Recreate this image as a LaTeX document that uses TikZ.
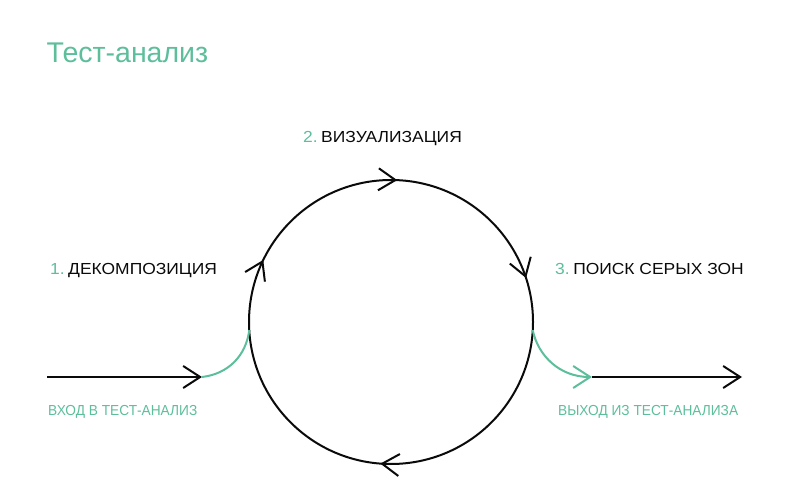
\documentclass[tikz,border=0pt]{standalone}
\usepackage{fontspec}
\setmainfont{Liberation Sans}
\newfontfamily\condfont[FakeStretch=0.945]{Liberation Sans}
\newfontfamily\widefont[FakeStretch=1.09]{Liberation Sans}
\usetikzlibrary{arrows.meta,decorations.markings}
\definecolor{mint}{RGB}{92,190,154}
\definecolor{ink}{RGB}{10,10,10}
\tikzset{
  chev/.tip={Straight Barb[length=17pt,width=22pt,line width=2pt]},
  flow/.style={line width=2pt, ink},
  greenflow/.style={line width=2pt, mint},
  lbl/.style={anchor=base west, inner sep=0pt, font=\widefont\fontsize{16}{18}\selectfont, text=ink},
  small/.style={anchor=base west, inner sep=0pt, font=\condfont\fontsize{14.5}{16}\selectfont, text=mint},
}
\begin{document}
\begin{tikzpicture}[x=1pt,y=1pt]
\useasboundingbox (0,0) rectangle (800,498);
% title
\node[anchor=base west, inner sep=0pt, font=\fontsize{28.5}{32}\selectfont, text=mint] (title) at (46.5,435) {Тест-анализ};
% labels
\node[lbl] (l2) at (303,355) {\textcolor{mint}{2.}\hspace{3.5pt}ВИЗУАЛИЗАЦИЯ};
\node[lbl] (l1) at (50,223) {\textcolor{mint}{1.}\hspace{3.5pt}ДЕКОМПОЗИЦИЯ};
\node[lbl] (l3) at (555,223) {\textcolor{mint}{3.}\hspace{3.5pt}ПОИСК СЕРЫХ ЗОН};
\node[small] (in) at (48,83) {ВХОД В ТЕСТ-АНАЛИЗ};
\node[small] (out) at (558,83) {ВЫХОД ИЗ ТЕСТ-АНАЛИЗА};
% geometry
\coordinate (c) at (391,176);
\coordinate (start) at (47,121);
\coordinate (inend) at (202,121);
\coordinate (join) at (249.3,168);
\coordinate (leave) at (532.7,168);
\coordinate (outstart) at (592,121);
\coordinate (finish) at (742,121);
% cycle
\draw[flow, postaction={decorate}, decoration={markings,
  mark=at position 0.05 with {\arrowreversed{chev}},
  mark=at position 0.243 with {\arrowreversed{chev}},
  mark=at position 0.428 with {\arrowreversed{chev}},
  mark=at position 0.738 with {\arrowreversed{chev}}}]
  (c) circle[radius=142];
% entry
\draw[flow, -{chev}] (start) -- (inend);
\draw[greenflow] (inend) .. controls (228,124) and (246,142) .. (join);
% exit
\draw[greenflow, -{chev}] (leave) .. controls (538,142) and (560,121) .. (outstart);
\draw[flow, -{chev}] (outstart) -- (finish);
\end{tikzpicture}
\end{document}
